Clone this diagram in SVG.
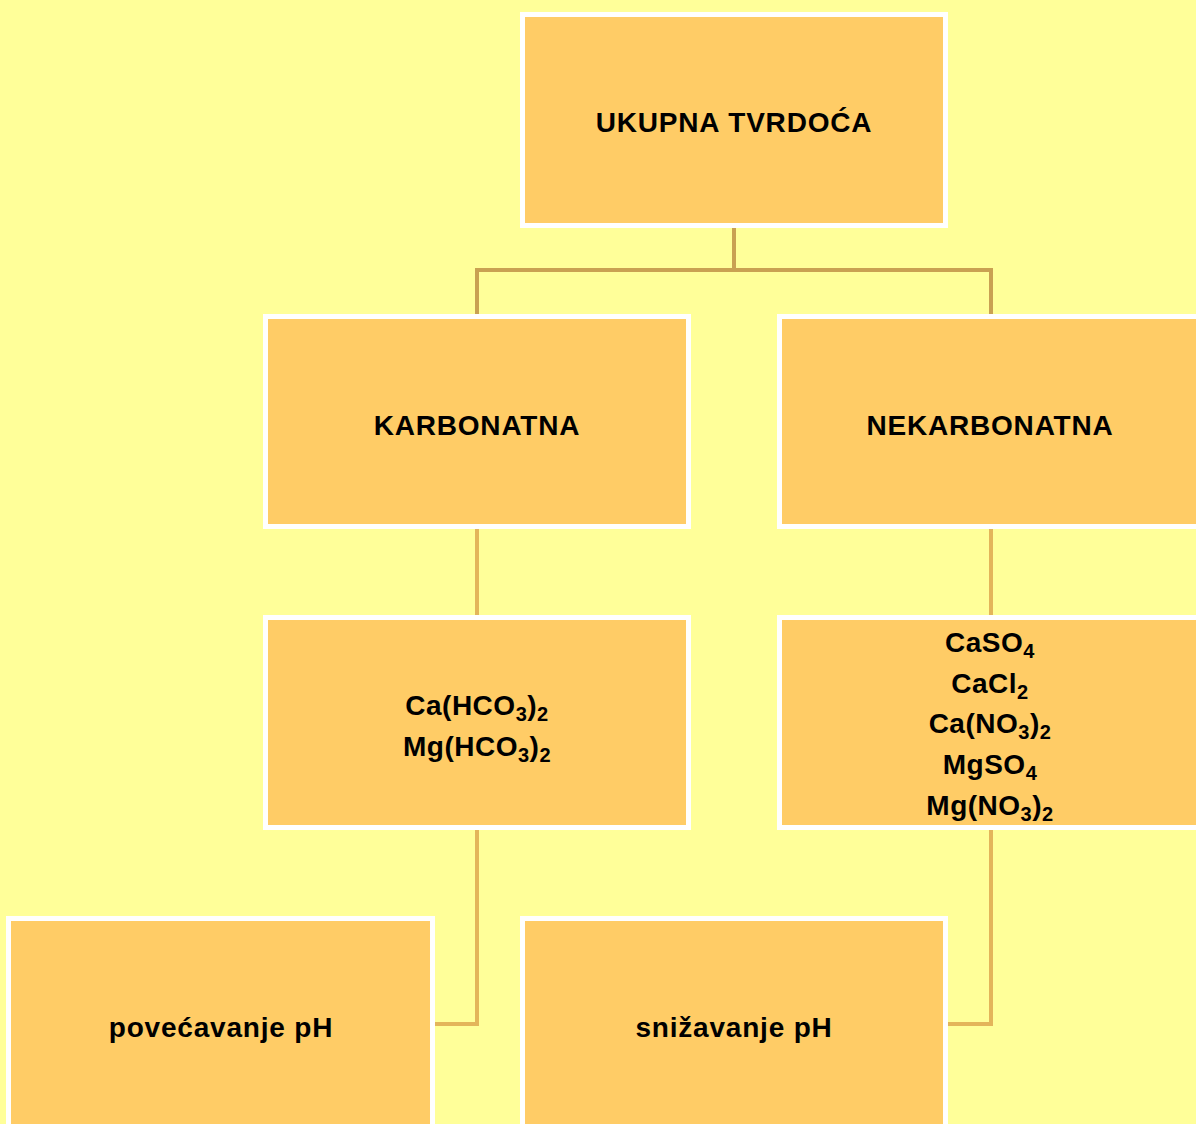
<svg xmlns="http://www.w3.org/2000/svg" width="1196" height="1124" viewBox="0 0 1196 1124">
<style>
.box{fill:#FFCC66;stroke:#FFFFFF;stroke-width:5}
.t{font-family:"Liberation Sans",Arial,sans-serif;font-weight:bold;font-size:28px;fill:#000;text-anchor:middle;letter-spacing:0.8px}
.f{font-family:"Liberation Sans",Arial,sans-serif;font-weight:bold;font-size:28px;fill:#000;text-anchor:middle;letter-spacing:0.5px}
.c1{fill:none;stroke:#C9A152;stroke-width:4}
.c2{fill:none;stroke:#E3B55A;stroke-width:4}
</style>
<rect x="0" y="0" width="1196" height="1124" fill="#FFFF99"/>
<g id="connectors">
<path class="c1" d="M734 228 V270 M477 270 H991 M477 268 V314 M991 268 V314"/>
<path class="c2" d="M477 529 V615 M991 529 V615"/>
<path class="c2" d="M477 830 V1024 H435 M991 830 V1024 H948"/>
</g>
<g id="n-ukupna">
<rect class="box" x="522.5" y="14.5" width="423" height="211"/>
<text class="t" x="734" y="132">UKUPNA<tspan dx="10">TVRDOĆA</tspan></text>
</g>
<g id="n-karbonatna">
<rect class="box" x="265.5" y="316.5" width="423" height="210"/>
<text class="t" x="477" y="435">KARBONATNA</text>
</g>
<g id="n-nekarbonatna">
<rect class="box" x="779.5" y="316.5" width="423" height="210"/>
<text class="t" x="990" y="435">NEKARBONATNA</text>
</g>
<g id="n-karb-spojevi">
<rect class="box" x="265.5" y="617.5" width="423" height="210"/>
<text class="f" x="477" y="715">Ca(HCO<tspan font-size="20" dy="6">3</tspan><tspan dy="-6">)</tspan><tspan font-size="20" dy="6">2</tspan></text>
<text class="f" x="477" y="756">Mg(HCO<tspan font-size="20" dy="6">3</tspan><tspan dy="-6">)</tspan><tspan font-size="20" dy="6">2</tspan></text>
</g>
<g id="n-nekarb-spojevi">
<rect class="box" x="779.5" y="617.5" width="423" height="210"/>
<text class="f" x="990" y="652">CaSO<tspan font-size="20" dy="6">4</tspan></text>
<text class="f" x="990" y="693">CaCl<tspan font-size="20" dy="6">2</tspan></text>
<text class="f" x="990" y="733">Ca(NO<tspan font-size="20" dy="6">3</tspan><tspan dy="-6">)</tspan><tspan font-size="20" dy="6">2</tspan></text>
<text class="f" x="990" y="774">MgSO<tspan font-size="20" dy="6">4</tspan></text>
<text class="f" x="990" y="815">Mg(NO<tspan font-size="20" dy="6">3</tspan><tspan dy="-6">)</tspan><tspan font-size="20" dy="6">2</tspan></text>
</g>
<g id="n-povecavanje">
<rect class="box" x="8.5" y="918.5" width="424" height="211"/>
<text class="t" x="221" y="1037">povećavanje pH</text>
</g>
<g id="n-snizavanje">
<rect class="box" x="522.5" y="918.5" width="423" height="211"/>
<text class="t" x="734" y="1037">snižavanje pH</text>
</g>
</svg>
